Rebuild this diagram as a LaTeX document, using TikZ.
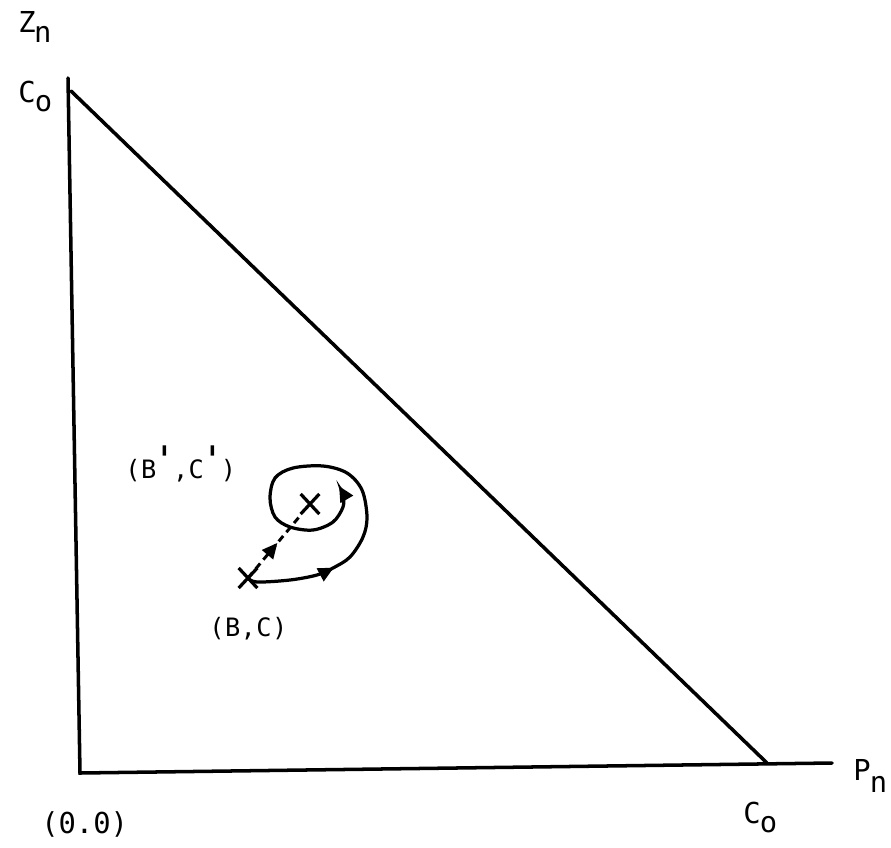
\documentclass[tikz,border=0pt]{standalone}
\usepackage{fontspec}
\newfontfamily\bigf{DejaVu Sans Mono}
\newfontfamily\smallf[LetterSpace=2]{DejaVu Sans Mono}
\usetikzlibrary{arrows.meta,decorations.markings,shapes.misc}
\tikzset{
  axis/.style={line width=2.5pt, line cap=round},
  curve/.style={line width=2.3pt},
  xmark/.style={cross out, draw, line width=2.3pt, minimum width=11pt, minimum height=12pt, inner sep=0pt},
  lab/.style={anchor=base west, inner sep=0pt, font={\bigf\fontsize{20.5}{24}\selectfont}},
  slab/.style={anchor=base west, inner sep=0pt, font={\smallf\fontsize{18}{21}\selectfont}},
  midarrow/.style={postaction={decorate}, decoration={markings, mark=at position #1 with {\arrow{Triangle[length=11pt,width=10pt]}}}},
}
\newcommand{\myprime}{\raisebox{3pt}{\scalebox{1.1}[1.5]{\bfseries '}}}
\begin{document}
\begin{tikzpicture}[x=0.025cm,y=-0.025cm]
\useasboundingbox (0,0) rectangle (891,847);
% triangle
\coordinate (top) at (68,78);
\coordinate (hyp) at (71,91);
\coordinate (orig) at (80,773);
\coordinate (pend) at (832,763);
\coordinate (cx) at (767,763);
\draw[axis] (top) -- (orig) -- (pend);
\draw[axis] (hyp) -- (cx);
% labels
\node[lab] (zn) at (18,33) {Z\kern-1pt\raisebox{-7pt}{n}};
\node[lab] (co1) at (18,103) {C\kern-0.5pt\raisebox{-6.4pt}{o}};
\node[lab] (pn) at (853,780) {P\kern-0.5pt\raisebox{-9pt}{n}};
\node[lab] (co2) at (743,823) {C\kern-0.5pt\raisebox{-6.4pt}{o}};
\node[lab] (oo) at (41,833) {(0.0)};
\node[slab] (bcp) at (125,478) {(B\myprime,C\myprime)};
\node[slab] (bc) at (209,636) {(B,C)};
% points
\node[xmark] (lowX) at (248,578) {};
\node[xmark] (upX) at (310,504) {};
% dashed path
\draw[curve, line width=2.1pt, dash pattern=on 5pt off 3.5pt, midarrow=0.55] (lowX.center) -- (upX);
% spiral
\draw[curve, midarrow=0.21, -{Triangle[length=11pt,width=10pt]}]
  plot[smooth, tension=0.55] coordinates {(lowX.center) (257,582) (290,580) (317,575) (333,568) (350,557) (363,537) (367,517) (362,490) (347,473) (323,466) (293,468) (275,478) (270,498) (275,517) (290,527) (313,530) (333,522) (343,507) (343,495) (339,486)};
\end{tikzpicture}
\end{document}
